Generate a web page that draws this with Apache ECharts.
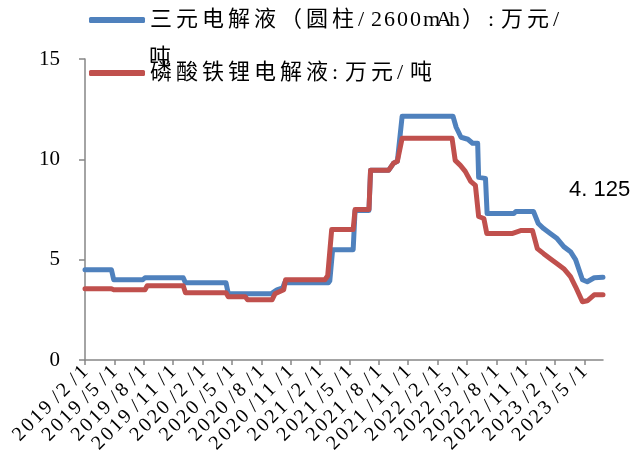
<!DOCTYPE html>
<html>
<head>
<meta charset="utf-8">
<script src="https://cdn.jsdelivr.net/npm/echarts@6/dist/echarts.min.js"></script>
<style>
  html, body { margin: 0; padding: 0; background: #fff; }
  #chart { width: 632px; height: 472px; }
</style>
</head>
<body>
<div id="chart"></div>
<script>
// series names
const nameNCM = '三元电解液（圆柱/2600mAh）:万元/吨'
const nameLFP = '磷酸铁锂电解液:万元/吨'

// x tick labels (every 3 months)
const xTickLabels = ['2019/2/1', '2019/5/1', '2019/8/1', '2019/11/1', '2020/2/1', '2020/5/1',
  '2020/8/1', '2020/11/1', '2021/2/1', '2021/5/1', '2021/8/1', '2021/11/1', '2022/2/1',
  '2022/5/1', '2022/8/1', '2022/11/1', '2023/2/1', '2023/5/1']

// blue: 三元电解液, break points
const ncmDates = ['2019-02-01', '2019-04-22', '2019-04-29', '2019-07-29', '2019-08-05', '2019-12-02',
  '2019-12-09', '2020-04-13', '2020-04-20', '2020-09-01', '2020-09-19', '2020-10-07', '2020-10-13',
  '2021-02-25', '2021-03-01', '2021-03-10', '2021-05-13', '2021-05-19', '2021-07-01', '2021-07-06',
  '2021-09-01', '2021-09-16', '2021-09-28', '2021-10-13', '2022-03-19', '2022-03-29', '2022-04-13',
  '2022-05-04', '2022-05-19', '2022-06-04', '2022-06-07', '2022-06-28', '2022-07-03', '2022-09-25',
  '2022-10-01', '2022-11-25', '2022-12-10', '2022-12-27', '2023-01-17', '2023-02-07', '2023-02-26',
  '2023-03-19', '2023-04-04', '2023-04-25', '2023-05-10', '2023-06-01', '2023-06-28']
const ncmValues = [4.5, 4.5, 4.0, 4.0, 4.1, 4.1,
  3.85, 3.85, 3.3, 3.3, 3.5, 3.6, 3.85,
  3.85, 3.95, 5.5, 5.5, 7.45, 7.45, 9.45,
  9.45, 9.8, 9.9, 12.15, 12.15, 11.6, 11.1,
  11.0, 10.8, 10.8, 9.1, 9.05, 7.3, 7.3,
  7.4, 7.4, 6.8, 6.55, 6.3, 6.05, 5.65,
  5.4, 5.0, 4.0, 3.9, 4.1, 4.125]

// red: 磷酸铁锂电解液
const lfpDates = ['2019-02-01', '2019-04-22', '2019-04-29', '2019-08-05', '2019-08-12', '2019-12-02',
  '2019-12-09', '2020-04-13', '2020-04-20', '2020-06-12', '2020-06-19', '2020-09-04', '2020-09-13',
  '2020-10-10', '2020-10-16', '2021-02-15', '2021-02-23', '2021-03-07', '2021-05-13', '2021-05-19',
  '2021-07-01', '2021-07-06', '2021-09-01', '2021-09-16', '2021-09-28', '2021-10-13', '2022-03-16',
  '2022-03-26', '2022-04-11', '2022-04-26', '2022-05-13', '2022-05-28', '2022-06-07', '2022-06-23',
  '2022-07-02', '2022-09-19', '2022-10-16', '2022-11-22', '2022-12-07', '2022-12-27', '2023-01-17',
  '2023-02-07', '2023-02-26', '2023-03-19', '2023-04-04', '2023-04-25', '2023-05-10', '2023-06-01',
  '2023-06-28']
const lfpValues = [3.55, 3.55, 3.5, 3.5, 3.7, 3.7,
  3.35, 3.35, 3.15, 3.15, 3.0, 3.0, 3.3,
  3.5, 4.0, 4.0, 4.2, 6.5, 6.5, 7.5,
  7.5, 9.45, 9.45, 9.8, 9.9, 11.05, 11.05,
  9.95, 9.7, 9.4, 8.9, 8.7, 7.15, 7.05,
  6.3, 6.3, 6.45, 6.45, 5.55, 5.3, 5.05,
  4.8, 4.55, 4.15, 3.65, 2.9, 2.95, 3.25,
  3.25]

// months since 2019/2/1 (fractional)
function toMonths (s) {
  const p = s.split(/[-/]/).map(Number)
  const days = new Date(p[0], p[1], 0).getDate()
  return (p[0] - 2019) * 12 + (p[1] - 2) + (p[2] - 1) / days
}

// the source font is half/full width: give every character its own fixed-width box
function spaced (text) {
  return text.split('').map(c => {
    const full = c.charCodeAt(0) > 0x2e80
    return '{' + (full ? 'w' : 'h') + '|' + c + '}'
  }).join('')
}

const tickValues = xTickLabels.map(toMonths)
const serif = '"Liberation Serif", "Noto Sans CJK SC", serif'

const chart = echarts.init(document.getElementById('chart'))
chart.setOption({
  animation: false,
  grid: {
    left: 85,
    right: 29,
    top: 59,
    bottom: 112
  },
  legend: {
    orient: 'vertical',
    left: 84,
    top: 4,
    itemWidth: 56,
    itemHeight: 6,
    itemGap: 31,
    icon: 'roundRect',
    formatter: function (name) {
      // the first entry wraps, its last character sits on the next line
      return spaced(name === nameNCM ? name.slice(0, -1) : name)
    },
    textStyle: {
      fontFamily: serif,
      fontSize: 22,
      color: '#000',
      rich: {
        w: { width: 26, fontFamily: serif, fontSize: 22, color: '#000' },
        h: { width: 13, fontFamily: serif, fontSize: 22, color: '#000' }
      }
    },
    data: [nameNCM, nameLFP]
  },
  graphic: [{
    type: 'text',
    left: 149,
    top: 47,
    style: {
      text: nameNCM.slice(-1),
      font: '22px ' + serif,
      fill: '#000'
    }
  }],
  xAxis: {
    type: 'value',
    min: 0,
    max: toMonths(ncmDates[ncmDates.length - 1]),
    interval: 3,
    splitLine: { show: false },
    axisLine: { lineStyle: { color: '#868686', width: 1.5 } },
    axisTick: {
      length: 5,
      customValues: tickValues,
      lineStyle: { color: '#868686', width: 1.5 }
    },
    axisLabel: {
      customValues: tickValues,
      showMinLabel: true,
      showMaxLabel: true,
      hideOverlap: false,
      rotate: 45,
      margin: 9,
      fontFamily: serif,
      fontSize: 20,
      color: '#000',
      rich: {
        h: { width: 12.5, fontFamily: serif, fontSize: 20, color: '#000' }
      },
      formatter: function (v) {
        const i = tickValues.findIndex(t => Math.abs(t - v) < 0.01)
        return i >= 0 ? spaced(xTickLabels[i]) : ''
      }
    }
  },
  yAxis: {
    type: 'value',
    min: 0,
    max: 15,
    interval: 5,
    splitLine: { show: false },
    axisLine: { show: true, lineStyle: { color: '#868686', width: 1.5 } },
    axisTick: { show: true, length: 6, lineStyle: { color: '#868686', width: 1.5 } },
    axisLabel: {
      margin: 25,
      fontFamily: serif,
      fontSize: 21,
      color: '#000'
    }
  },
  series: [{
    name: nameNCM,
    type: 'line',
    symbol: 'none',
    color: '#4F81BD',
    lineStyle: { width: 5, cap: 'round', join: 'round' },
    endLabel: {
      show: true,
      offset: [-42, -87],
      fontFamily: '"Liberation Sans", Arial, sans-serif',
      fontSize: 22,
      color: '#000',
      formatter: function (p) {
        return String(p.value[1]).replace('.', '. ')
      }
    },
    data: ncmDates.map((d, i) => [toMonths(d), ncmValues[i]])
  }, {
    name: nameLFP,
    type: 'line',
    symbol: 'none',
    color: '#C0504D',
    lineStyle: { width: 5, cap: 'round', join: 'round' },
    data: lfpDates.map((d, i) => [toMonths(d), lfpValues[i]])
  }]
})
</script>
</body>
</html>
